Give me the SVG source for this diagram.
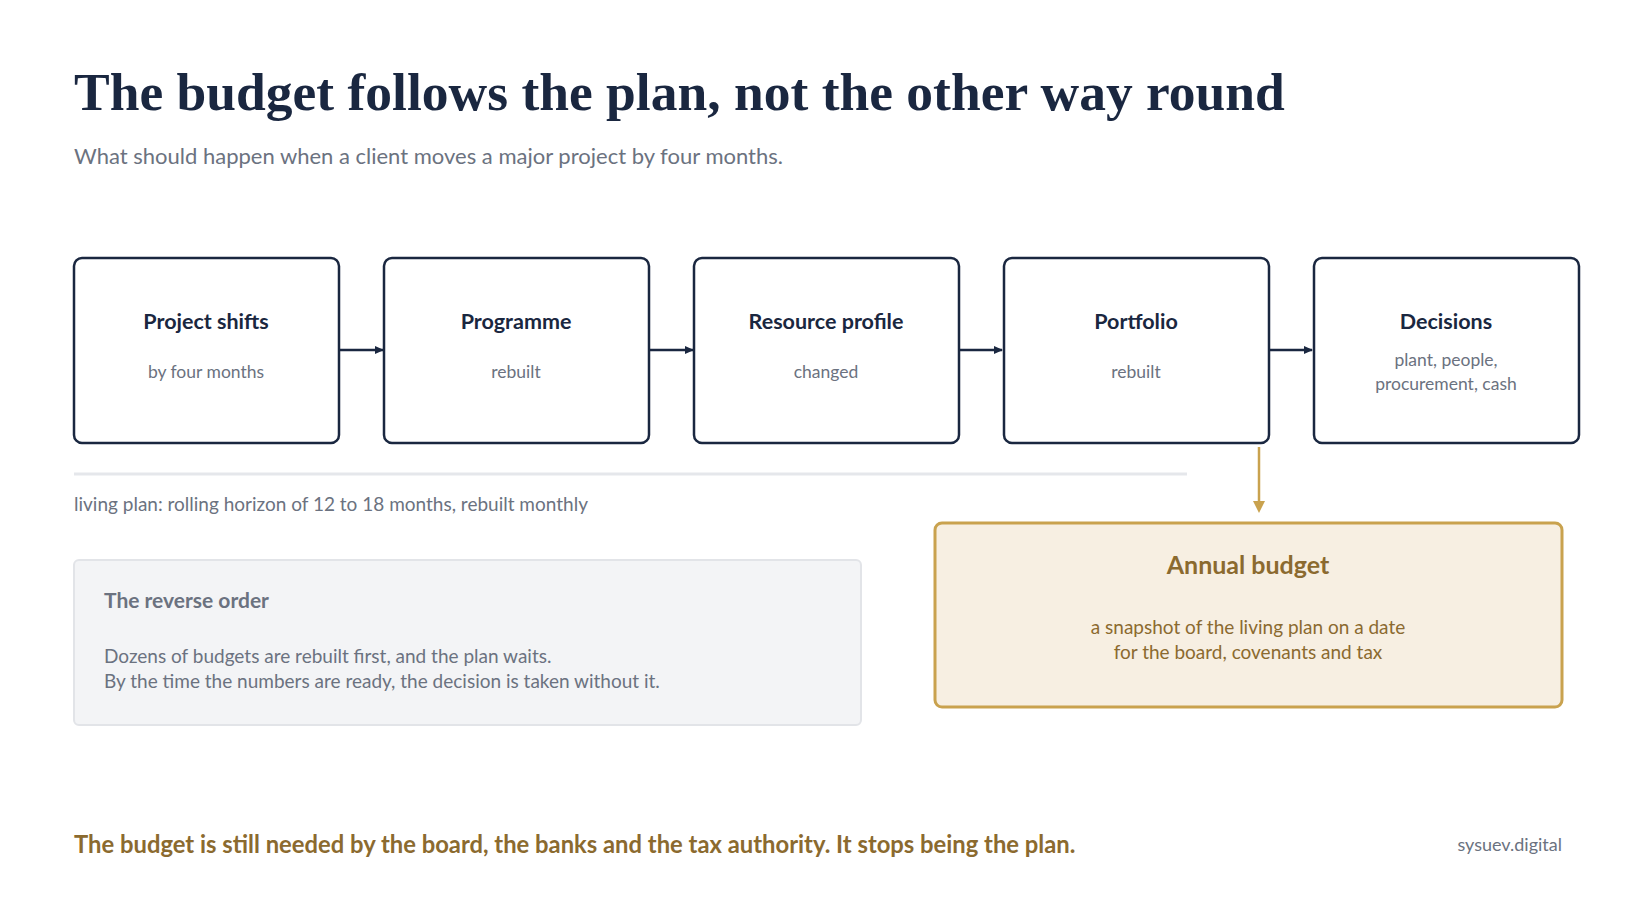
<svg xmlns="http://www.w3.org/2000/svg" width="1640" height="922" viewBox="0 0 1640 922">
<style>
.t{font-family:Lato,"Noto Sans",sans-serif}
.box{fill:#fff;stroke:#1a2740;stroke-width:2.5}
.h{font-family:Lato,sans-serif;font-weight:700;font-size:21.5px;fill:#1a2740;text-anchor:middle}
.s{font-family:Lato,sans-serif;font-size:17.5px;fill:#6b7280;text-anchor:middle}
.ar{stroke:#1a2740;stroke-width:2.5;fill:none}
</style>
<defs>
<marker id="m" markerWidth="10" markerHeight="10" refX="8" refY="5" orient="auto" markerUnits="userSpaceOnUse"><path d="M0,1 L9,5 L0,9 Z" fill="#1a2740"/></marker>
</defs>
<rect width="1640" height="922" fill="#fff"/>
<text x="74" y="110" font-family="'Liberation Serif',serif" font-weight="700" font-size="53.5" fill="#1a2740">The budget follows the plan, not the other way round</text>
<text x="74" y="164" class="t" font-size="22" fill="#6b7280">What should happen when a client moves a major project by four months.</text>
<g id="connectors">
<line class="ar" x1="339" y1="350" x2="383" y2="350" marker-end="url(#m)"/>
<line class="ar" x1="649" y1="350" x2="693" y2="350" marker-end="url(#m)"/>
<line class="ar" x1="959" y1="350" x2="1002" y2="350" marker-end="url(#m)"/>
<line class="ar" x1="1269" y1="350" x2="1312" y2="350" marker-end="url(#m)"/>
<line x1="1259" y1="447" x2="1259" y2="505" stroke="#c9a24e" stroke-width="2.5"/>
<path d="M1253,501 L1265,501 L1259,513 Z" fill="#c9a24e"/>
</g>
<g id="n1"><rect class="box" x="74" y="258" width="265" height="185" rx="8"/><text class="h" x="206" y="329">Project shifts</text><text class="s" x="206" y="378">by four months</text></g>
<g id="n2"><rect class="box" x="384" y="258" width="265" height="185" rx="8"/><text class="h" x="516" y="329">Programme</text><text class="s" x="516" y="378">rebuilt</text></g>
<g id="n3"><rect class="box" x="694" y="258" width="265" height="185" rx="8"/><text class="h" x="826" y="329">Resource profile</text><text class="s" x="826" y="378">changed</text></g>
<g id="n4"><rect class="box" x="1004" y="258" width="265" height="185" rx="8"/><text class="h" x="1136" y="329">Portfolio</text><text class="s" x="1136" y="378">rebuilt</text></g>
<g id="n5"><rect class="box" x="1314" y="258" width="265" height="185" rx="8"/><text class="h" x="1446" y="329">Decisions</text><text class="s" x="1446" y="366">plant, people,</text><text class="s" x="1446" y="390">procurement, cash</text></g>
<line x1="74" y1="474" x2="1187" y2="474" stroke="#e5e7eb" stroke-width="3"/>
<text x="74" y="511" class="t" font-size="19" fill="#6b7280">living plan: rolling horizon of 12 to 18 months, rebuilt monthly</text>
<g id="reverse"><rect x="74" y="560" width="787" height="165" rx="5" fill="#f3f4f6" stroke="#e2e4e8" stroke-width="2"/>
<text x="104" y="608" class="t" font-weight="700" font-size="21" fill="#6b7280">The reverse order</text>
<text x="104" y="663" class="t" font-size="19" fill="#6b7280">Dozens of budgets are rebuilt first, and the plan waits.</text>
<text x="104" y="688" class="t" font-size="19" fill="#6b7280">By the time the numbers are ready, the decision is taken without it.</text></g>
<g id="budget"><rect x="935" y="523" width="627" height="184" rx="7" fill="#f7efe2" stroke="#c9a24e" stroke-width="3"/>
<text x="1248" y="574" class="t" text-anchor="middle" font-weight="700" font-size="25" fill="#8b6a2f">Annual budget</text>
<text x="1248" y="634" class="t" text-anchor="middle" font-size="19" fill="#8b6a2f">a snapshot of the living plan on a date</text>
<text x="1248" y="659" class="t" text-anchor="middle" font-size="19" fill="#8b6a2f">for the board, covenants and tax</text></g>
<text x="74" y="853" class="t" font-weight="700" font-size="23.8" fill="#8b6a2f">The budget is still needed by the board, the banks and the tax authority. It stops being the plan.</text>
<text x="1562" y="851" class="t" text-anchor="end" font-size="18" fill="#6b7280">sysuev.digital</text>
</svg>
